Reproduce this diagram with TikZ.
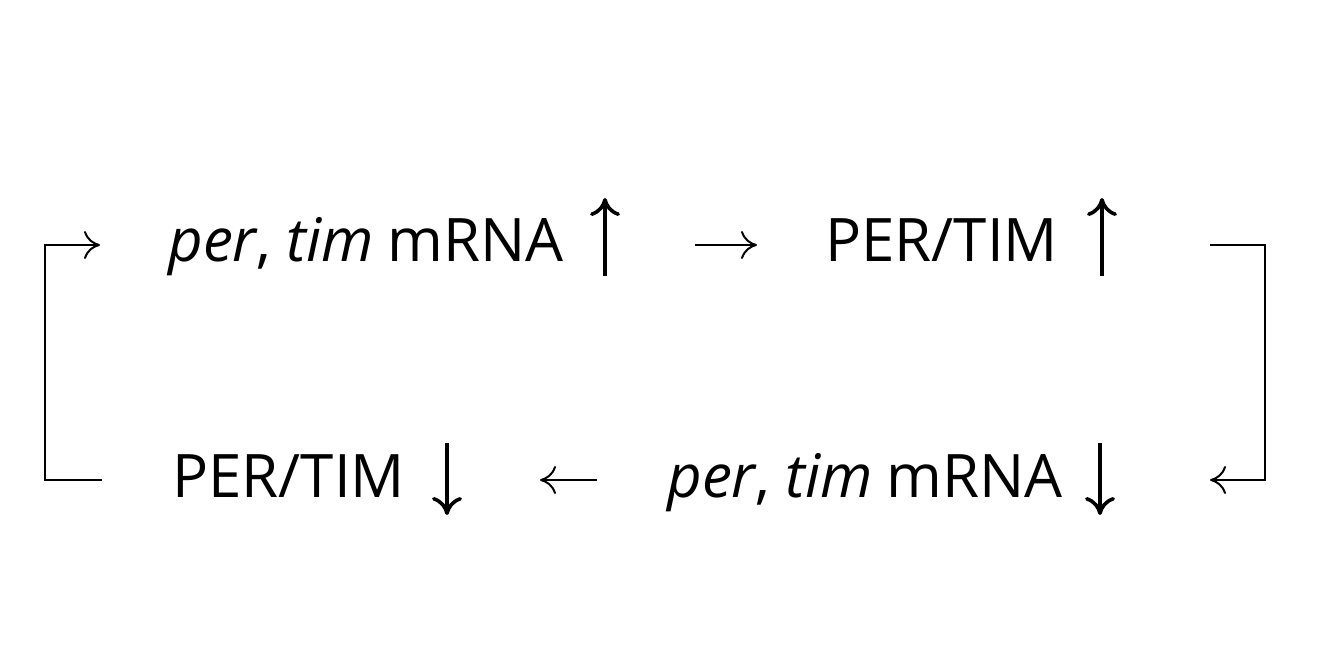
\documentclass[tikz,border=0pt]{standalone}
\usepackage{fontspec}
\setmainfont{Open Sans}
\usetikzlibrary{arrows.meta}
\tikzset{
  gene/.style={inner sep=0pt, font=\fontsize{30}{36}\selectfont, anchor=base west},
  flow/.style={line width=1pt, -{Computer Modern Rightarrow[length=8pt,width=14pt]}},
  level/.style={line width=1.8pt, -{Computer Modern Rightarrow[length=9pt,width=15pt,line width=1.8pt]}}
}
\begin{document}
\begin{tikzpicture}[x=0.5pt,y=-0.5pt]
\useasboundingbox (0,0) rectangle (1342,652);

% the four states
\node[gene] (mrnaUp) at (168,261) {\textit{per}, \textit{tim}\kern-1pt\ mRNA};
\node[gene] (protUp) at (825,261) {PER/TIM};
\node[gene] (protDown) at (172,497) {PER/TIM};
\node[gene] (mrnaDown) at (667,497) {\textit{per}, \textit{tim}\kern-1pt\ mRNA};

% levels up and down
\draw[level] (605,276) -- (605,198);
\draw[level] (1102,276) -- (1102,198);
\draw[level] (447,443) -- (447,515);
\draw[level] (1100,443) -- (1100,515);

% ends of the steps
\coordinate (upA) at (695,245);
\coordinate (upB) at (757,245);
\coordinate (downA) at (597,480);
\coordinate (downB) at (540,480);
\coordinate (leftA) at (102,480);
\coordinate (leftB) at (100,245);
\coordinate (rightA) at (1210,245);
\coordinate (rightB) at (1210,480);

% steps of the loop
\draw[flow] (upA) -- (upB);
\draw[flow] (downA) -- (downB);
\draw[flow] (leftA) -- ++(-57,0) |- (leftB);
\draw[flow] (rightA) -- ++(55,0) |- (rightB);
\end{tikzpicture}
\end{document}
